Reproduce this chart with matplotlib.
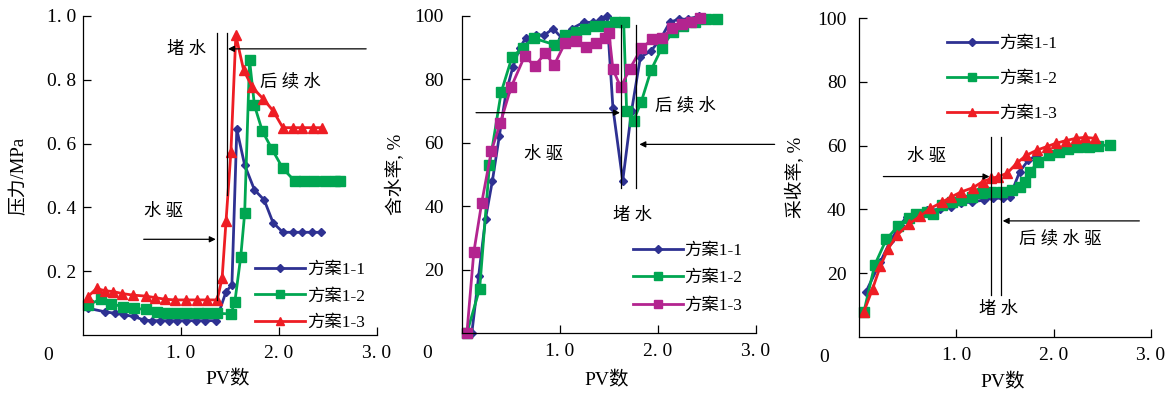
import matplotlib
matplotlib.use('Agg')
import matplotlib.pyplot as plt

plt.rcParams['font.family'] = ['Liberation Serif', 'Noto Sans CJK SC']

# series names
names = ['方案1-1', '方案1-2', '方案1-3']

# pressure, MPa (left panel)
p_x1 = [0.05, 0.22, 0.33, 0.42, 0.52, 0.62, 0.70, 0.79, 0.88, 0.96, 1.05, 1.15, 1.25, 1.36,
        1.46, 1.52, 1.57, 1.65, 1.75, 1.85, 1.94, 2.04, 2.14, 2.24, 2.34, 2.43]
p_y1 = [0.084, 0.073, 0.068, 0.063, 0.058, 0.047, 0.045, 0.045, 0.045, 0.045, 0.045, 0.045, 0.045, 0.045,
        0.136, 0.157, 0.645, 0.533, 0.455, 0.423, 0.352, 0.322, 0.322, 0.322, 0.322, 0.322]
p_x2 = [0.05, 0.18, 0.29, 0.41, 0.52, 0.64, 0.76, 0.86, 0.96, 1.06, 1.17, 1.27, 1.37, 1.51,
        1.55, 1.61, 1.65, 1.70, 1.75, 1.83, 1.93, 2.04, 2.16, 2.26, 2.36, 2.47, 2.57, 2.62]
p_y2 = [0.094, 0.112, 0.097, 0.089, 0.084, 0.080, 0.073, 0.070, 0.068, 0.068, 0.068, 0.068, 0.068, 0.066,
        0.104, 0.245, 0.381, 0.862, 0.72, 0.64, 0.582, 0.522, 0.483, 0.483, 0.483, 0.483, 0.483, 0.483]
p_x3 = [0.05, 0.14, 0.22, 0.31, 0.40, 0.51, 0.64, 0.74, 0.84, 0.94, 1.05, 1.16, 1.27, 1.37,
        1.42, 1.46, 1.51, 1.56, 1.64, 1.73, 1.84, 1.94, 2.04, 2.14, 2.24, 2.35, 2.44]
p_y3 = [0.12, 0.146, 0.139, 0.136, 0.130, 0.125, 0.122, 0.117, 0.112, 0.110, 0.110, 0.110, 0.110, 0.110,
        0.178, 0.357, 0.575, 0.94, 0.83, 0.776, 0.74, 0.703, 0.65, 0.65, 0.65, 0.65, 0.65]

# water cut, % (middle panel)
w_x1 = [0.10, 0.17, 0.24, 0.31, 0.38, 0.45, 0.52, 0.59, 0.65, 0.75, 0.84, 0.93, 1.02, 1.12,
        1.24, 1.34, 1.42, 1.48, 1.54, 1.64, 1.73, 1.82, 1.93, 2.03, 2.12, 2.21, 2.31, 2.42]
w_y1 = [0, 18, 36, 48, 62, 76, 84, 90, 93, 94, 94, 96, 93, 96,
        98, 98, 99, 100, 71, 48, 70, 87, 89, 93, 98, 99, 99, 100]
w_x2 = [0.05, 0.18, 0.28, 0.40, 0.51, 0.62, 0.73, 0.94, 1.05, 1.16, 1.26, 1.36, 1.46,
        1.56, 1.65, 1.68, 1.75, 1.83, 1.93, 2.04, 2.15, 2.26, 2.38, 2.49, 2.60]
w_y2 = [0, 14, 53, 76, 87, 90, 93, 91, 94, 95, 96, 97, 97,
        98, 98, 70, 67, 73, 83, 90, 95, 97, 98, 99, 99]
w_x3 = [0.05, 0.12, 0.20, 0.30, 0.39, 0.50, 0.64, 0.74, 0.85, 0.94, 1.05, 1.16, 1.27,
        1.37, 1.46, 1.50, 1.54, 1.62, 1.71, 1.83, 1.94, 2.04, 2.14, 2.24, 2.34, 2.43]
w_y3 = [0, 25.4, 40.9, 57.5, 66.1, 77.5, 87.4, 84.2, 88.2, 84.5, 91.4, 92.2, 90.3,
        91.4, 93, 94.5, 83.2, 77.5, 83.2, 89.8, 92.6, 93, 96.1, 97.5, 98.2, 99.3]

# recovery, % (right panel)
r_x1 = [0.07, 0.22, 0.32, 0.42, 0.49, 0.59, 0.70, 0.83, 0.94, 1.05, 1.16, 1.28, 1.38, 1.48,
        1.55, 1.65, 1.74, 1.83]
r_y1 = [14.1, 23.6, 30, 35, 37.7, 39, 39.8, 40, 40.6, 41.9, 42.4, 42.9, 43.5, 43.5,
        44, 51.8, 55.5, 57]
r_x2 = [0.05, 0.16, 0.28, 0.40, 0.51, 0.59, 0.70, 0.76, 0.85, 0.95, 1.05, 1.16, 1.26, 1.36,
        1.47, 1.57, 1.65, 1.71, 1.76, 1.84, 1.95, 2.05, 2.15, 2.25, 2.36, 2.46, 2.58]
r_y2 = [7.9, 22.5, 30.6, 34.8, 37.2, 38.7, 39.3, 38.7, 41.4, 42.4, 42.9, 44, 45, 45.5,
        45.5, 46, 46.9, 48.7, 51.8, 55, 57.1, 58.1, 58.8, 59.5, 59.7, 60, 60.2]
r_x3 = [0.05, 0.14, 0.22, 0.30, 0.39, 0.51, 0.63, 0.73, 0.85, 0.94, 1.05, 1.17, 1.27,
        1.36, 1.43, 1.52, 1.62, 1.72, 1.83, 1.93, 2.02, 2.13, 2.23, 2.32, 2.42]
r_y3 = [7.9, 15.2, 22.3, 27.7, 31.9, 35.4, 37.9, 40.3, 42.2, 43.8, 45.5, 46.8, 48.7,
        49.7, 50.3, 51.3, 54.5, 57, 58.6, 59.7, 60.7, 61.6, 62.3, 62.6, 62.3]

x_ticks = [1, 2, 3]
x_labels = ['1. 0', '2. 0', '3. 0']
p_ticks = [0.2, 0.4, 0.6, 0.8, 1.0]
p_labels = ['0. 2', '0. 4', '0. 6', '0. 8', '1. 0']
pct_ticks = [20, 40, 60, 80, 100]
pct_labels = ['20', '40', '60', '80', '100']

blue = '#2E3192'
green = '#00A651'
red = '#EE1D24'
magenta = '#B3248F'
cjk = 12.5

fig = plt.figure(figsize=(11.75, 3.95), dpi=100)
ax1 = fig.add_axes([0.0706, 0.1519, 0.2502, 0.8076])
ax2 = fig.add_axes([0.3932, 0.1570, 0.2502, 0.8025])
ax3 = fig.add_axes([0.7311, 0.1468, 0.2485, 0.8076])


def style(ax, ymax, yticks, ylabels, ylabel, ypad, ylab_x, xlab_y):
    ax.set_xlim(0, 3)
    ax.set_ylim(0, ymax)
    for s in ['top', 'right']:
        ax.spines[s].set_visible(False)
    for s in ['left', 'bottom']:
        ax.spines[s].set_linewidth(0.9)
    ax.set_xticks(x_ticks)
    ax.set_xticklabels(x_labels)
    ax.set_yticks(yticks)
    ax.set_yticklabels(ylabels)
    ax.tick_params(axis='both', direction='in', length=6, width=0.9, labelsize=14)
    ax.tick_params(axis='x', pad=7)
    ax.tick_params(axis='y', pad=ypad)
    ax.set_xlabel('PV数', fontsize=14)
    ax.set_ylabel(ylabel, fontsize=13.5)
    ax.yaxis.set_label_coords(ylab_x, 0.5)
    ax.xaxis.set_label_coords(0.493, xlab_y)
    ax.text(-0.12, -0.065, '0', transform=ax.transAxes, fontsize=14, ha='center', va='center')


def arrow(ax, head, tail):
    ax.annotate('', xy=head, xytext=tail,
                arrowprops=dict(arrowstyle='-|>', color='k', lw=0.9, mutation_scale=9,
                                shrinkA=0, shrinkB=0))


def legend(ax, anchor, spacing):
    ax.legend(loc='upper left', bbox_to_anchor=anchor, frameon=False, fontsize=cjk,
              handlelength=2.9, handletextpad=0.1, labelspacing=spacing, markerscale=0.8,
              borderpad=0, borderaxespad=0)


# left panel: pressure
kw = dict(lw=2.0, clip_on=False)
ax1.plot(p_x1, p_y1, color=blue, marker='D', ms=4.5, label=names[0], **kw)
ax1.plot(p_x2, p_y2, color=green, marker='s', ms=6.5, label=names[1], **kw)
ax1.plot(p_x3, p_y3, color=red, marker='^', ms=7, label=names[2], **kw)
style(ax1, 1.0, p_ticks, p_labels, '压力/MPa', 5, -0.19, -0.11)
ax1.plot([1.364, 1.364], [0.11, 0.946], color='k', lw=0.9)
ax1.plot([1.474, 1.474], [0.44, 0.946], color='k', lw=0.9)
arrow(ax1, (1.48, 0.897), (2.89, 0.897))
arrow(ax1, (1.355, 0.30), (0.62, 0.30))
ax1.text(1.06, 0.895, '堵 水', fontsize=cjk, ha='center', va='center')
ax1.text(2.12, 0.794, '后 续 水', fontsize=cjk, ha='center', va='center')
ax1.text(0.82, 0.387, '水 驱', fontsize=cjk, ha='center', va='center')
legend(ax1, (0.585, 0.23), 0.6)

# middle panel: water cut
ax2.plot(w_x1, w_y1, color=blue, marker='D', ms=4.5, label=names[0], **kw)
ax2.plot(w_x2, w_y2, color=green, marker='s', ms=6.5, label=names[1], **kw)
ax2.plot(w_x3, w_y3, color=magenta, marker='s', ms=7.5, label=names[2], **kw)
style(ax2, 100, pct_ticks, pct_labels, '含水率, %', 13, -0.194, -0.12)
ax2.plot([1.619, 1.619], [45.6, 97.2], color='k', lw=0.9)
ax2.plot([1.776, 1.776], [45.6, 97.2], color='k', lw=0.9)
arrow(ax2, (1.612, 69.5), (0.143, 69.5))
arrow(ax2, (1.81, 59.5), (3.19, 59.5))
ax2.text(2.275, 71.6, '后 续 水', fontsize=cjk, ha='center', va='center')
ax2.text(0.83, 56.2, '水 驱', fontsize=cjk, ha='center', va='center')
ax2.text(1.74, 36.9, '堵 水', fontsize=cjk, ha='center', va='center')
legend(ax2, (0.58, 0.285), 0.65)

# right panel: recovery
ax3.plot(r_x1, r_y1, color=blue, marker='D', ms=4.5, label=names[0], **kw)
ax3.plot(r_x2, r_y2, color=green, marker='s', ms=7, label=names[1], **kw)
ax3.plot(r_x3, r_y3, color=red, marker='^', ms=7.5, label=names[2], **kw)
style(ax3, 100, pct_ticks, pct_labels, '采收率, %', 9, -0.185, -0.115)
ax3.plot([1.353, 1.353], [13.1, 62.8], color='k', lw=0.9)
ax3.plot([1.455, 1.455], [13.1, 62.8], color='k', lw=0.9)
arrow(ax3, (1.34, 50.3), (0.25, 50.3))
arrow(ax3, (1.476, 36.4), (2.88, 36.4))
ax3.text(0.695, 56.5, '水 驱', fontsize=cjk, ha='center', va='center')
ax3.text(2.065, 30.6, '后 续 水 驱', fontsize=cjk, ha='center', va='center')
ax3.text(1.43, 8.6, '堵 水', fontsize=cjk, ha='center', va='center')
legend(ax3, (0.30, 0.945), 1.1)

fig.savefig('out.png', dpi=100)
